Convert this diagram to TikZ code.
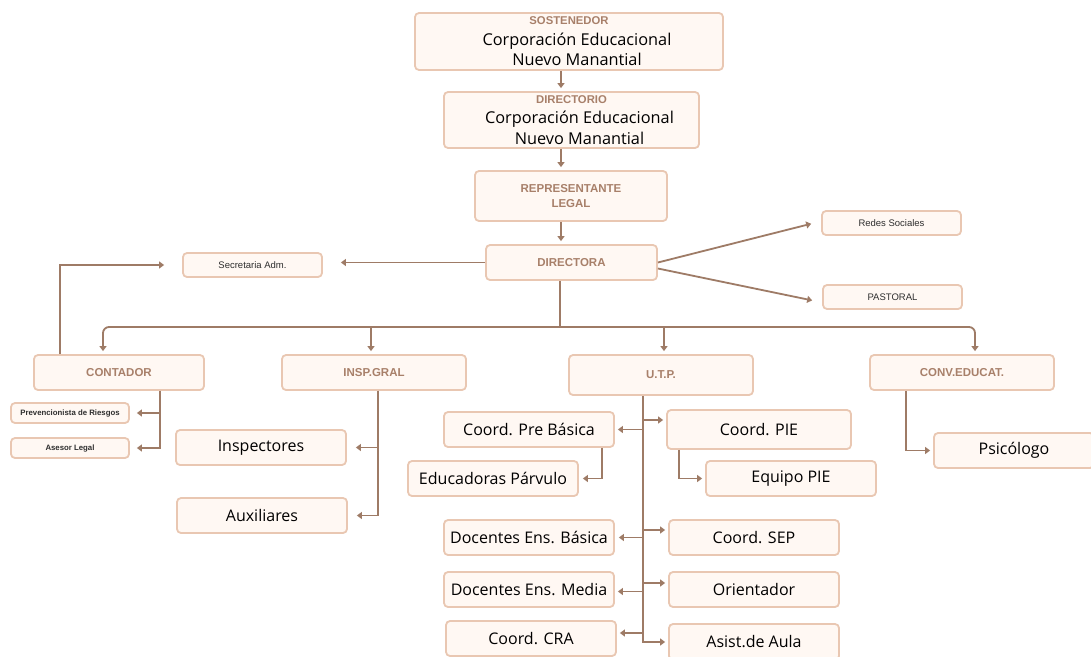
\documentclass[tikz,border=0pt]{standalone}
\usepackage{fontspec}
\setmainfont{Open Sans}
\newfontfamily\hdrfont{Liberation Sans}
\usetikzlibrary{arrows.meta}
\definecolor{boxline}{HTML}{E9C7B2}
\definecolor{boxfill}{HTML}{FFF8F3}
\definecolor{arrowc}{HTML}{9E7B66}
\definecolor{hdrc}{HTML}{A8806A}
\definecolor{smallc}{HTML}{2E2E2E}
\def\hdrtxt#1{{\hdrfont\bfseries\fontsize{11.3}{13}\selectfont\color{hdrc}#1}}
\def\bodyln{\hspace*{16pt}}
\tikzset{
	box/.style={draw=boxline, fill=boxfill, line width=1.8pt, rounded corners=4pt, inner sep=0pt, align=center, text=black},
	wh/.style 2 args={minimum width=#1pt, minimum height=#2pt},
	top/.style={box, font=\fontsize{16.3}{20.5}\selectfont},
	hdr/.style={box, font=\hdrfont\bfseries\fontsize{11.5}{15}\selectfont, text=hdrc},
	big/.style={box, font=\fontsize{16}{19}\selectfont},
	tiny/.style={box, font=\hdrfont\fontsize{9.5}{11}\selectfont, text=smallc},
	tinyb/.style={box, font=\hdrfont\bfseries\fontsize{7.8}{9}\selectfont, text=smallc},
	conn/.style={draw=arrowc, line width=1.8pt},
	arr/.style={conn, -{Triangle[length=5pt,width=7pt]}, shorten >=3pt},
}

\begin{document}
\begin{tikzpicture}[x=1pt, y=-1pt]
		%%%%% START %%%%%
		\fill[white] (0,0) rectangle (1091,656);
		\useasboundingbox (0,0) rectangle (1091,656);
		
		\node[top, wh={308}{57}] (sost) at (569,41.5) {\hdrtxt{SOSTENEDOR}\\\bodyln Corporación Educacional\\\bodyln Nuevo Manantial};
		\node[top, wh={255}{56}] (dir) at (571.5,120) {\hdrtxt{DIRECTORIO}\\\bodyln Corporación Educacional\\\bodyln Nuevo Manantial};
		\node[hdr, wh={192}{50}] (rep) at (571,196) {REPRESENTANTE\\LEGAL};
		\node[hdr, wh={171}{35}] (directora) at (571.5,262.5) {DIRECTORA};
		
		\node[tiny, wh={139}{24}] (secre) at (252.5,265) {Secretaria Adm.};
		\node[tiny, wh={139}{24}] (redes) at (891.5,223) {Redes Sociales};
		\node[tiny, wh={139}{24}] (pastoral) at (892.5,297) {PASTORAL};
		
		\node[hdr, wh={170}{35}] (contador) at (119,372.5) {CONTADOR};
		\node[hdr, wh={184}{35}] (insp) at (374,372.5) {INSP.GRAL};
		\node[hdr, wh={184}{40}] (utp) at (661,375) {U.T.P.};
		\node[hdr, wh={184}{35}] (conv) at (962,372.5) {CONV.EDUCAT.};
		
		\node[tinyb, wh={118}{20}] (prev) at (70,413) {Prevencionista de Riesgos};
		\node[tinyb, wh={118}{20}] (asesor) at (70,448) {Asesor Legal};
		\node[big, wh={170}{35}] (inspectores) at (261,447.5) {Inspectores};
		\node[big, wh={170}{35}] (auxiliares) at (262,515.5) {Auxiliares};
		
		\node[big, wh={170}{35}] (cpb) at (529,429.5) {Coord. Pre Básica};
		\node[big, wh={170}{35}] (educ) at (493,478.5) {Educadoras Párvulo};
		\node[big, wh={170}{35}] (deb) at (529,537.5) {Docentes Ens. Básica};
		\node[big, wh={170}{35}] (dem) at (529,589.5) {Docentes Ens. Media};
		\node[big, wh={170}{35}] (cra) at (531,638.5) {Coord. CRA};
		
		\node[big, wh={184}{39}] (cpie) at (759,429.5) {Coord. PIE};
		\node[big, wh={170}{35}] (epie) at (791,478.5) {Equipo PIE};
		\node[big, wh={170}{35}] (csep) at (754,537.5) {Coord. SEP};
		\node[big, wh={170}{35}] (orient) at (754,589.5) {Orientador};
		\node[big, wh={170}{36}] (asist) at (754,642) {Asist.de Aula};
		
		\node[big, wh={160}{35}] (psico) at (1014,450.5) {Psicólogo};
		
		% top chain
		\coordinate (spine) at (561,0);
		\draw[arr] (sost.south -| spine) -- (dir.north -| spine);
		\draw[arr] (dir.south -| spine) -- (rep.north -| spine);
		\draw[arr] (rep.south -| spine) -- (directora.north -| spine);
		
		\draw[arr] (directora.west) -- ([xshift=15]secre.east |- directora.west);
		\draw[arr] (directora.east) -- ([xshift=-7]redes.west);
		\draw[arr] ([yshift=-6]directora.east) -- ([xshift=-7,yshift=-4]pastoral.west);
		
		% bus
		\coordinate (bus) at (560,327);
		\draw[conn] (directora.south -| bus) -- (bus);
		\draw[arr, rounded corners=6pt] (bus) -| ([xshift=-16]contador.north);
		\draw[arr, rounded corners=6pt] (bus) -| ([xshift=13]conv.north);
		\draw[arr] ([xshift=-3]insp.north |- bus) -- ([xshift=-3]insp.north);
		\draw[arr] ([xshift=3]utp.north |- bus) -- ([xshift=3]utp.north);
		
		\draw[arr] ([xshift=-59]contador.north) |- ([xshift=-15]secre.west);
		\draw[arr] ([xshift=41]contador.south) |- ([xshift=4]prev.east);
		\draw[arr] ([xshift=41]contador.south) |- ([xshift=4]asesor.east);
		
		\draw[arr] ([xshift=4]insp.south) |- ([xshift=6]inspectores.east);
		\draw[arr] ([xshift=4]insp.south) |- ([xshift=6]auxiliares.east);
		
		% U.T.P.
		\coordinate (u) at ([xshift=-18]utp.south);
		\draw[arr] (u) |- (asist.west);
		\draw[arr] ([yshift=9.5]cpie.west -| u) -- ([yshift=9.5]cpie.west);
		\draw[arr] (cpb.east -| u) -- (cpb.east);
		\draw[arr] ([yshift=7.5]csep.west -| u) -- ([yshift=7.5]csep.west);
		\draw[arr] (deb.east -| u) -- ([xshift=1]deb.east);
		\draw[arr] ([yshift=6.5]orient.west -| u) -- ([yshift=6.5]orient.west);
		\draw[arr] ([yshift=-2]dem.east -| u) -- ([yshift=-2]dem.east);
		\draw[arr] ([yshift=5.5]cra.east -| u) -- ([yshift=5.5]cra.east);
		
		\draw[arr] ([xshift=73]cpb.south) |- ([xshift=1]educ.east);
		\draw[arr] ([xshift=-80]cpie.south) |- (epie.west);
		
		\draw[arr] ([xshift=-56]conv.south) |- (psico.west);
		%%%%% END %%%%%
\end{tikzpicture}
\end{document}
